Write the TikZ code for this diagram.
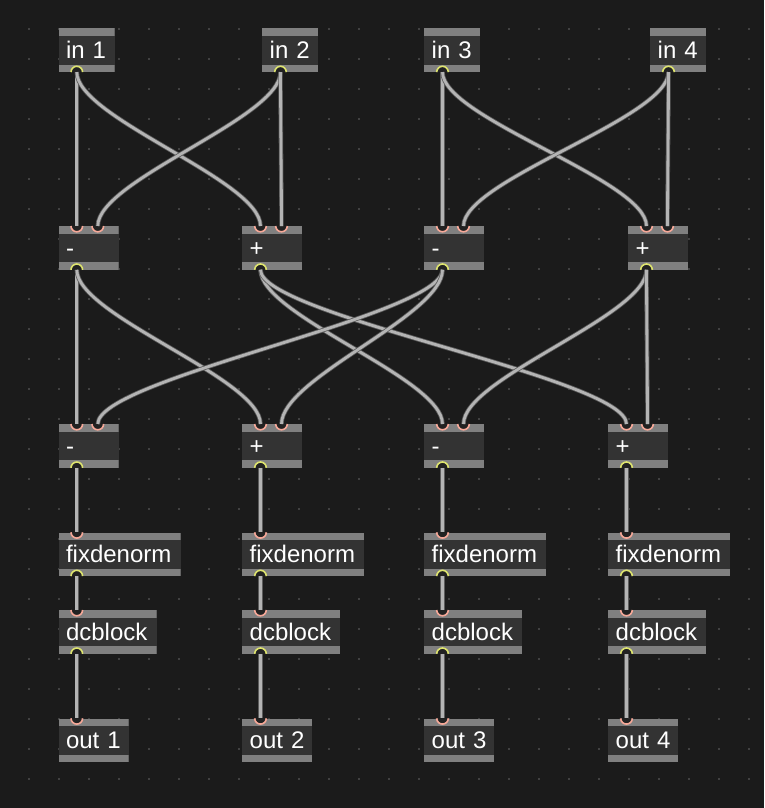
\documentclass[tikz,border=0pt]{standalone}
\usepackage{fontspec}
\setmainfont{Liberation Sans}
\usepackage{tikz}
\pgfdeclarelayer{gridlayer}
\pgfdeclarelayer{nodelayer}
\pgfdeclarelayer{edgelayer}
\pgfsetlayers{gridlayer,main,nodelayer,edgelayer}

\definecolor{patchbg}{RGB}{27,27,27}
\definecolor{griddot}{RGB}{66,66,66}
\definecolor{boxfill}{RGB}{51,51,51}
\definecolor{barfill}{RGB}{128,128,128}
\definecolor{inletcol}{RGB}{246,168,152}
\definecolor{outletcol}{RGB}{222,228,110}
\definecolor{portfill}{RGB}{34,34,34}
\definecolor{cordcol}{RGB}{180,180,180}
\definecolor{cordedge}{RGB}{92,92,92}

\tikzset{
  obj/.style={anchor=north west, fill=boxfill, inner xsep=7.5pt, inner ysep=0pt,
    minimum height=43.4pt, text=white, font=\fontsize{24}{28}\selectfont,
    align=left, text height=17.5pt, text depth=0pt, objwidth=#1,
    path picture={
      \fill[barfill] (path picture bounding box.north west) rectangle ([yshift=-7.3pt]path picture bounding box.north east);
      \fill[barfill] ([yshift=7.3pt]path picture bounding box.south west) rectangle (path picture bounding box.south east);
    }},
  objwidth/.code={\pgfmathsetmacro\objtw{#1-15}\tikzset{minimum width=#1pt, text width=\objtw pt}},
  inring/.style={draw=inletcol, fill=portfill, line width=1.6pt},
  outring/.style={draw=outletcol, fill=portfill, line width=1.6pt},
  cord/.style={draw=cordedge, double=cordcol, double distance=2.8pt, line width=0.8pt,
    to path={.. controls +(0,-46) and +(0,46) .. (\tikztotarget)}},
}

% ports: coordinate plus half ring on the box edge
\newcommand{\objinlet}[3]{%
  \coordinate (#1-i#2) at ([xshift=#3pt]#1.north west);
  \filldraw[inring] ([xshift=-5.8pt]#1-i#2) arc[start angle=180, end angle=360, radius=5.8pt];}
\newcommand{\objoutlet}[1]{%
  \coordinate (#1-o) at ([xshift=18.5pt]#1.south west);
  \filldraw[outring] ([xshift=-5.8pt]#1-o) arc[start angle=180, end angle=0, radius=5.8pt];}

\begin{document}
\begin{tikzpicture}[x=1pt,y=1pt]
  \useasboundingbox (0,0) rectangle (764,-808);
  \begin{pgfonlayer}{gridlayer}
    \fill[patchbg] (0,0) rectangle (764,-808);
    \foreach \i in {0,...,24}
      \foreach \j in {0,...,25}
        \fill[griddot] ({28+30*\i},{-28-30*\j}) rectangle +(2,-2);
  \end{pgfonlayer}
  \begin{pgfonlayer}{nodelayer}
    \node[obj=56] (in1) at (58.3,-28.3) {in 1};
    \node[obj=56] (in2) at (262,-28.3) {in 2};
    \node[obj=56] (in3) at (424,-28.3) {in 3};
    \node[obj=56] (in4) at (650,-28.3) {in 4};
    \node[obj=60] (mA1) at (58.3,-226) {-};
    \node[obj=60] (pA2) at (242,-226) {+};
    \node[obj=60] (mA3) at (424,-226) {-};
    \node[obj=60] (pA4) at (628,-226) {+};
    \node[obj=60] (mB1) at (58.3,-424) {-};
    \node[obj=60] (pB2) at (242,-424) {+};
    \node[obj=60] (mB3) at (424,-424) {-};
    \node[obj=60] (pB4) at (608,-424) {+};
    \node[obj=122] (fd1) at (58.3,-532.3) {fixdenorm};
    \node[obj=122] (fd2) at (242,-532.3) {fixdenorm};
    \node[obj=122] (fd3) at (424,-532.3) {fixdenorm};
    \node[obj=122] (fd4) at (608,-532.3) {fixdenorm};
    \node[obj=98] (dc1) at (58.3,-610) {dcblock};
    \node[obj=98] (dc2) at (242,-610) {dcblock};
    \node[obj=98] (dc3) at (424,-610) {dcblock};
    \node[obj=98] (dc4) at (608,-610) {dcblock};
    \node[obj=70] (out1) at (58.3,-718.3) {out 1};
    \node[obj=70] (out2) at (242,-718.3) {out 2};
    \node[obj=70] (out3) at (424,-718.3) {out 3};
    \node[obj=70] (out4) at (608,-718.3) {out 4};
    \foreach \n in {in1,in2,in3,in4} {\objoutlet{\n}}
    \foreach \n in {mA1,pA2,mA3,pA4,mB1,pB2,mB3,pB4}
      {\objinlet{\n}{1}{18.5} \objinlet{\n}{2}{39.5} \objoutlet{\n}}
    \foreach \n in {1,...,4}
      {\objinlet{fd\n}{1}{18.5} \objoutlet{fd\n}
       \objinlet{dc\n}{1}{18.5} \objoutlet{dc\n}
       \objinlet{out\n}{1}{18.5}}
  \end{pgfonlayer}
  \begin{pgfonlayer}{edgelayer}
    \draw[cord] (in1-o) to (mA1-i1);
    \draw[cord] (in1-o) to (pA2-i1);
    \draw[cord] (in2-o) to (mA1-i2);
    \draw[cord] (in2-o) to (pA2-i2);
    \draw[cord] (in3-o) to (mA3-i1);
    \draw[cord] (in3-o) to (pA4-i1);
    \draw[cord] (in4-o) to (mA3-i2);
    \draw[cord] (in4-o) to (pA4-i2);
    \draw[cord] (mA1-o) to (mB1-i1);
    \draw[cord] (mA1-o) to (pB2-i1);
    \draw[cord] (pA2-o) to (mB3-i1);
    \draw[cord] (pA2-o) to (pB4-i1);
    \draw[cord] (mA3-o) to (mB1-i2);
    \draw[cord] (mA3-o) to (pB2-i2);
    \draw[cord] (pA4-o) to (mB3-i2);
    \draw[cord] (pA4-o) to (pB4-i2);
    \draw[cord] (mB1-o) -- (fd1-i1);
    \draw[cord] (pB2-o) -- (fd2-i1);
    \draw[cord] (mB3-o) -- (fd3-i1);
    \draw[cord] (pB4-o) -- (fd4-i1);
    \foreach \n in {1,...,4} {
      \draw[cord] (fd\n-o) -- (dc\n-i1);
      \draw[cord] (dc\n-o) -- (out\n-i1);
    }
  \end{pgfonlayer}
\end{tikzpicture}
\end{document}
